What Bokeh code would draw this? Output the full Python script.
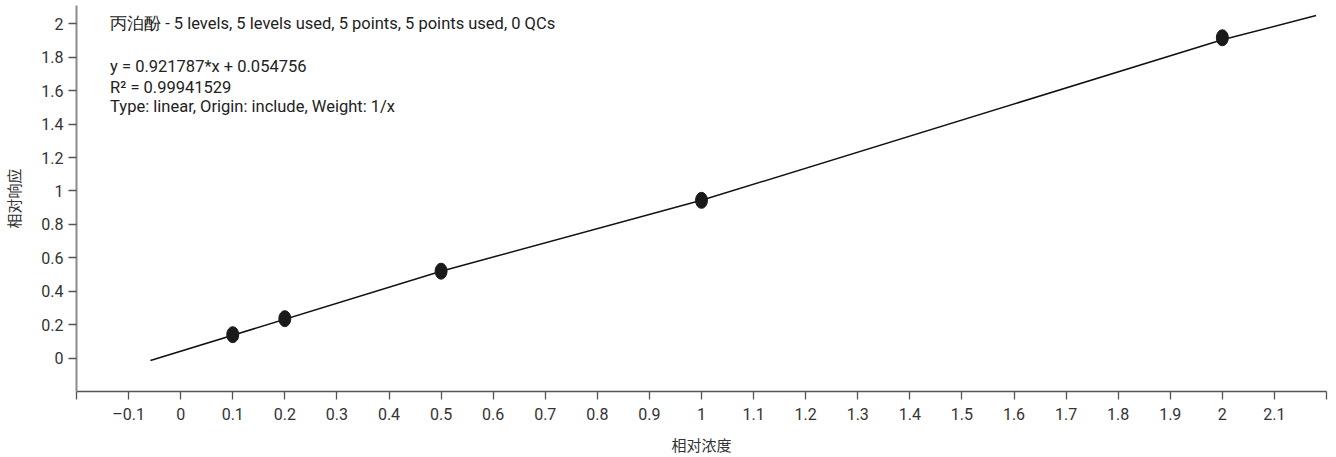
from bokeh.plotting import figure
from bokeh.models import Range1d, FixedTicker, Label
from bokeh.embed import file_html
from bokeh.resources import INLINE

# ---- data ----
conc = [0.1, 0.2, 0.5, 1.0, 2.0]
resp = [0.14, 0.236, 0.52, 0.944, 1.917]

fit_x = [-0.058, 0.5, 1.0, 2.0, 2.18]
fit_y = [-0.015, 0.52, 0.944, 1.905, 2.05]

x_ticks = [-0.2, -0.1, 0, 0.1, 0.2, 0.3, 0.4, 0.5, 0.6, 0.7, 0.8, 0.9, 1, 1.1,
           1.2, 1.3, 1.4, 1.5, 1.6, 1.7, 1.8, 1.9, 2, 2.1, 2.2]
x_tick_labels = ["", "\u20130.1", "0", "0.1", "0.2", "0.3", "0.4", "0.5", "0.6",
                 "0.7", "0.8", "0.9", "1", "1.1", "1.2", "1.3", "1.4", "1.5",
                 "1.6", "1.7", "1.8", "1.9", "2", "2.1", ""]
y_ticks = [0, 0.2, 0.4, 0.6, 0.8, 1, 1.2, 1.4, 1.6, 1.8, 2]
y_tick_labels = ["0", "0.2", "0.4", "0.6", "0.8", "1", "1.2", "1.4", "1.6", "1.8", "2"]

title_line = "丙泊酚 - 5 levels, 5 levels used, 5 points, 5 points used, 0 QCs"
eq_line = "y = 0.921787*x + 0.054756"
r2_line = "R\u00b2 = 0.99941529"
type_line = "Type: linear, Origin: include, Weight: 1/x"
x_title = "相对浓度"
y_title = "相对响应"

NARROW = "Roboto"
CJK = "Noto Sans CJK SC"

X0, X1 = -0.2, 2.2
Y0, Y1 = -0.2, 2.11

p = figure(width=1328, height=457,
           x_range=Range1d(X0, X1), y_range=Range1d(Y0, Y1),
           output_backend="svg", toolbar_location=None,
           min_border_left=69, min_border_right=2,
           min_border_top=5, min_border_bottom=66)

p.outline_line_color = None
p.grid.visible = False
p.background_fill_color = "white"
p.border_fill_color = "white"

# x axis
xa = p.xaxis[0]
xa.ticker = FixedTicker(ticks=x_ticks)
xa.major_label_overrides = {t: l for t, l in zip(x_ticks, x_tick_labels)}
xa.axis_line_color = "#555555"
xa.axis_line_width = 1.3
xa.major_tick_line_color = "#555555"
xa.major_tick_line_width = 1.3
xa.major_tick_out = 8
xa.major_tick_in = 0
xa.minor_tick_line_color = None
xa.major_label_text_font = NARROW
xa.major_label_text_font_size = "16px"
xa.major_label_text_color = "#333333"
xa.major_label_standoff = 5
xa.axis_label = x_title
xa.axis_label_text_font = CJK
xa.axis_label_text_font_style = "normal"
xa.axis_label_text_font_size = "15px"
xa.axis_label_text_color = "#333333"
xa.axis_label_standoff = 7

# y axis
ya = p.yaxis[0]
ya.ticker = FixedTicker(ticks=y_ticks)
ya.major_label_overrides = {t: l for t, l in zip(y_ticks, y_tick_labels)}
ya.axis_line_color = "#8c8c8c"
ya.axis_line_width = 2
ya.major_tick_line_color = "#555555"
ya.major_tick_line_width = 1.3
ya.major_tick_out = 8
ya.major_tick_in = 0
ya.minor_tick_line_color = None
ya.major_label_text_font = NARROW
ya.major_label_text_font_size = "16px"
ya.major_label_text_color = "#333333"
ya.major_label_standoff = 5
ya.axis_label = y_title
ya.axis_label_text_font = CJK
ya.axis_label_text_font_style = "normal"
ya.axis_label_text_font_size = "15px"
ya.axis_label_text_color = "#333333"
ya.axis_label_standoff = 14

# fit line and calibration points
p.line(fit_x, fit_y, line_color="#111111", line_width=1.5)
p.ellipse(x=conc, y=resp, width=12, height=16, width_units="screen",
          height_units="screen", fill_color="#1a1a1a", line_color="#1a1a1a")

# annotation text
ann_x = -0.1355
for txt, yv in [(title_line, 2.0), (eq_line, 1.743), (r2_line, 1.62), (type_line, 1.503)]:
    p.add_layout(Label(x=ann_x, y=yv, text=txt, text_font=NARROW,
                       text_font_size="16.5px", text_color="#222222",
                       text_baseline="middle", text_align="left"))

open("out.html", "w").write(file_html(p, INLINE))
